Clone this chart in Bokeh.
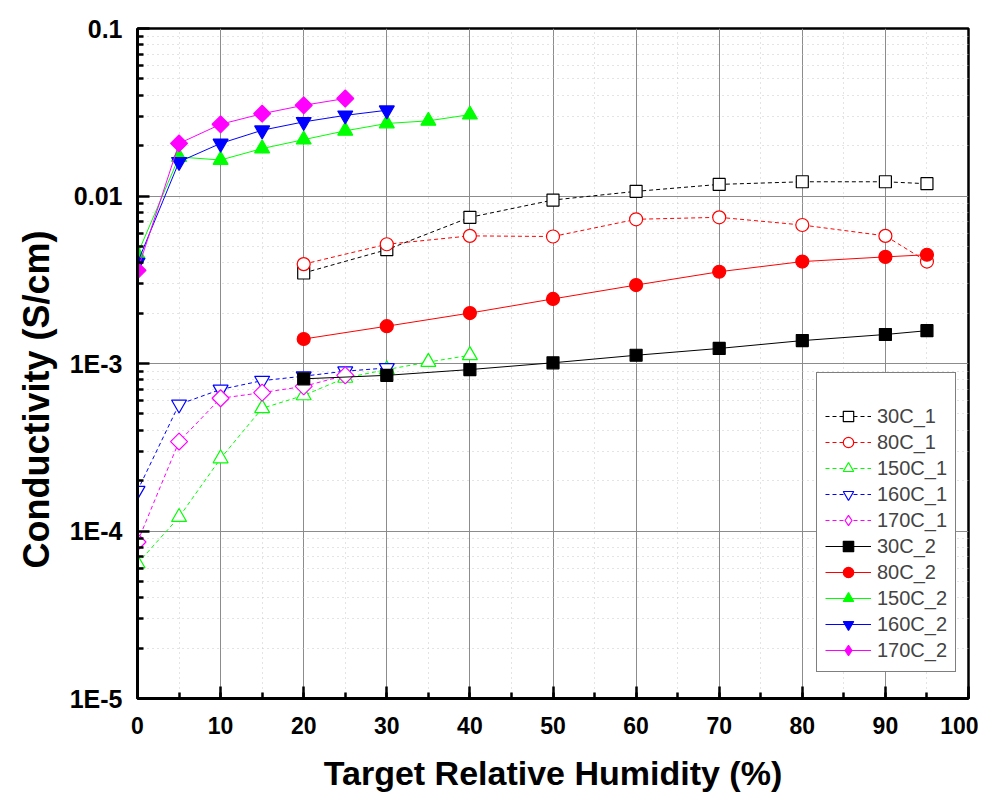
import numpy as np
from bokeh.plotting import figure
from bokeh.models import (Legend, LegendItem, FixedTicker, SingleIntervalTicker,
                          CustomJSTickFormatter, Range1d, Title)
from bokeh.embed import file_html
from bokeh.resources import INLINE

# ---------------- data ----------------
rh_30_1 = [20, 30, 40, 50, 60, 70, 80, 90, 95]
s_30_1 = [3.47e-3, 4.78e-3, 7.46e-3, 9.46e-3, 1.066e-2, 1.173e-2, 1.216e-2, 1.216e-2, 1.184e-2]
rh_80_1 = [20, 30, 40, 50, 60, 70, 80, 90, 95]
s_80_1 = [3.92e-3, 5.15e-3, 5.78e-3, 5.73e-3, 7.26e-3, 7.46e-3, 6.71e-3, 5.78e-3, 4.06e-3]
rh_150_1 = [0, 5, 10, 15, 20, 25, 30, 35, 40]
s_150_1 = [6.4e-5, 1.21e-4, 2.71e-4, 5.4e-4, 6.45e-4, 8.2e-4, 9.2e-4, 1.02e-3, 1.12e-3]
rh_160_1 = [0, 5, 10, 15, 20, 25, 30]
s_160_1 = [1.74e-4, 5.7e-4, 7.0e-4, 7.9e-4, 8.4e-4, 9.0e-4, 9.4e-4]
rh_170_1 = [0, 5, 10, 15, 20, 25]
s_170_1 = [8.6e-5, 3.42e-4, 6.2e-4, 6.7e-4, 7.3e-4, 8.5e-4]
rh_30_2 = [20, 30, 40, 50, 60, 70, 80, 90, 95]
s_30_2 = [8.1e-4, 8.5e-4, 9.2e-4, 1.01e-3, 1.12e-3, 1.23e-3, 1.37e-3, 1.49e-3, 1.57e-3]
rh_80_2 = [20, 30, 40, 50, 60, 70, 80, 90, 95]
s_80_2 = [1.40e-3, 1.67e-3, 2.00e-3, 2.43e-3, 2.94e-3, 3.53e-3, 4.06e-3, 4.33e-3, 4.46e-3]
rh_150_2 = [0, 5, 10, 15, 20, 25, 30, 35, 40]
s_150_2 = [4.5e-3, 1.71e-2, 1.64e-2, 1.92e-2, 2.17e-2, 2.45e-2, 2.71e-2, 2.81e-2, 3.06e-2]
rh_160_2 = [0, 5, 10, 15, 20, 25, 30]
s_160_2 = [4.0e-3, 1.6e-2, 2.06e-2, 2.47e-2, 2.77e-2, 3.03e-2, 3.25e-2]
rh_170_2 = [0, 5, 10, 15, 20, 25]
s_170_2 = [3.6e-3, 2.06e-2, 2.68e-2, 3.10e-2, 3.48e-2, 3.82e-2]

y_tick_values = [1e-5, 1e-4, 1e-3, 1e-2, 1e-1]
y_tick_labels = ["1E-5", "1E-4", "1E-3", "0.01", "0.1"]
y_minor_values = [k * 10.0 ** d for d in range(-5, -1) for k in range(2, 10)]

x_title = "Target Relative Humidity (%)"
y_title = "Conductivity (S/cm)"

series = [
    ("30C_1", rh_30_1, s_30_1, "black", "square", False),
    ("80C_1", rh_80_1, s_80_1, "red", "circle", False),
    ("150C_1", rh_150_1, s_150_1, "#00ff00", "triangle", False),
    ("160C_1", rh_160_1, s_160_1, "blue", "inverted_triangle", False),
    ("170C_1", rh_170_1, s_170_1, "magenta", "diamond", False),
    ("30C_2", rh_30_2, s_30_2, "black", "square", True),
    ("80C_2", rh_80_2, s_80_2, "red", "circle", True),
    ("150C_2", rh_150_2, s_150_2, "#00ff00", "triangle", True),
    ("160C_2", rh_160_2, s_160_2, "blue", "inverted_triangle", True),
    ("170C_2", rh_170_2, s_170_2, "magenta", "diamond", True),
]

FONT = "Liberation Sans"

p = figure(width=978, height=794, y_axis_type="log", output_backend="svg",
           toolbar_location=None,
           x_range=Range1d(0, 100), y_range=Range1d(1e-5, 0.1))
p.min_border_left = 137
p.min_border_right = 10
p.min_border_top = 28
p.min_border_bottom = 94
p.background_fill_color = "white"
p.border_fill_color = "white"
p.outline_line_color = "black"
p.outline_line_width = 2.5

items = []
for name, xs, ys, col, mk, filled in series:
    dash = "solid" if filled else "4 3"
    fill = col if filled else "white"
    r1 = p.line(xs, ys, line_color=col, line_width=1, line_dash=dash)
    if mk == "diamond":
        r2 = p.scatter(xs, ys, marker="square", size=12, angle=np.pi / 4,
                       line_color=col, line_width=1.2, fill_color=fill)
        # diamond-shaped renderer used only for the legend glyph
        r3 = p.scatter(xs, ys, marker="diamond", size=14,
                       line_color=col, line_width=1.2, fill_color=fill, visible=False)
        items.append(LegendItem(label=name, renderers=[r1, r3]))
    else:
        size = {"square": 12, "circle": 13}.get(mk, 15)
        r2 = p.scatter(xs, ys, marker=mk, size=size,
                       line_color=col, line_width=1.2, fill_color=fill)
        items.append(LegendItem(label=name, renderers=[r1, r2]))

legend = Legend(items=items, location=(679, 26))
legend.title = " "
legend.title_text_font_size = "14px"
legend.title_standoff = 6
legend.padding = 8
legend.spacing = 0
legend.label_height = 26
legend.glyph_height = 26
legend.glyph_width = 46
legend.label_standoff = 6
legend.label_text_font = FONT
legend.label_text_font_size = "20px"
legend.border_line_color = "black"
legend.border_line_width = 1.5
legend.background_fill_color = "white"
legend.background_fill_alpha = 1.0
p.add_layout(legend, "center")

xa = p.xaxis[0]
xa.ticker = SingleIntervalTicker(interval=10, num_minor_ticks=2)
xa.axis_label = x_title
ya = p.yaxis[0]
ya.ticker = FixedTicker(ticks=y_tick_values, minor_ticks=y_minor_values)
ya.formatter = CustomJSTickFormatter(args=dict(vals=y_tick_values, labs=y_tick_labels), code="""
let best = 0, bd = 1e9;
for (let i = 0; i < vals.length; i++) {
  const d = Math.abs(Math.log10(tick) - Math.log10(vals[i]));
  if (d < bd) { bd = d; best = i; }
}
return labs[best];
""")

for ax in (xa, ya):
    ax.axis_line_width = 3
    ax.axis_line_color = "black"
    ax.major_tick_in = 12
    ax.major_tick_out = 0
    ax.minor_tick_in = 6
    ax.minor_tick_out = 0
    ax.major_tick_line_width = 2.5
    ax.minor_tick_line_width = 2.5
    ax.major_tick_line_color = "black"
    ax.minor_tick_line_color = "black"
    ax.major_label_text_font = FONT
    ax.major_label_text_font_style = "bold"
    ax.major_label_text_color = "black"
    ax.axis_label_text_font = FONT
    ax.axis_label_text_font_style = "bold"
    ax.axis_label_text_color = "black"

xa.axis_label_text_font_size = "34px"
xa.major_label_text_font_size = "23px"
ya.major_label_text_font_size = "25px"
xa.major_label_standoff = 18
ya.major_label_standoff = 15
xa.axis_label_standoff = 17

# y-axis title as a side title, starting a little above the bottom of the frame
ytitle = Title(text=y_title, align="left", offset=130, standoff=20,
               text_font=FONT, text_font_style="bold", text_font_size="36px",
               text_color="black")
p.add_layout(ytitle, "left")

for g in (p.xgrid[0], p.ygrid[0]):
    g.grid_line_color = "#8c8c8c"
    g.grid_line_width = 1
    g.minor_grid_line_color = "#c8c8c8"
    g.minor_grid_line_dash = "1 4"
    g.minor_grid_line_width = 1
p.xgrid[0].ticker = xa.ticker
p.ygrid[0].ticker = ya.ticker

open("out.html", "w").write(file_html(p, INLINE))
